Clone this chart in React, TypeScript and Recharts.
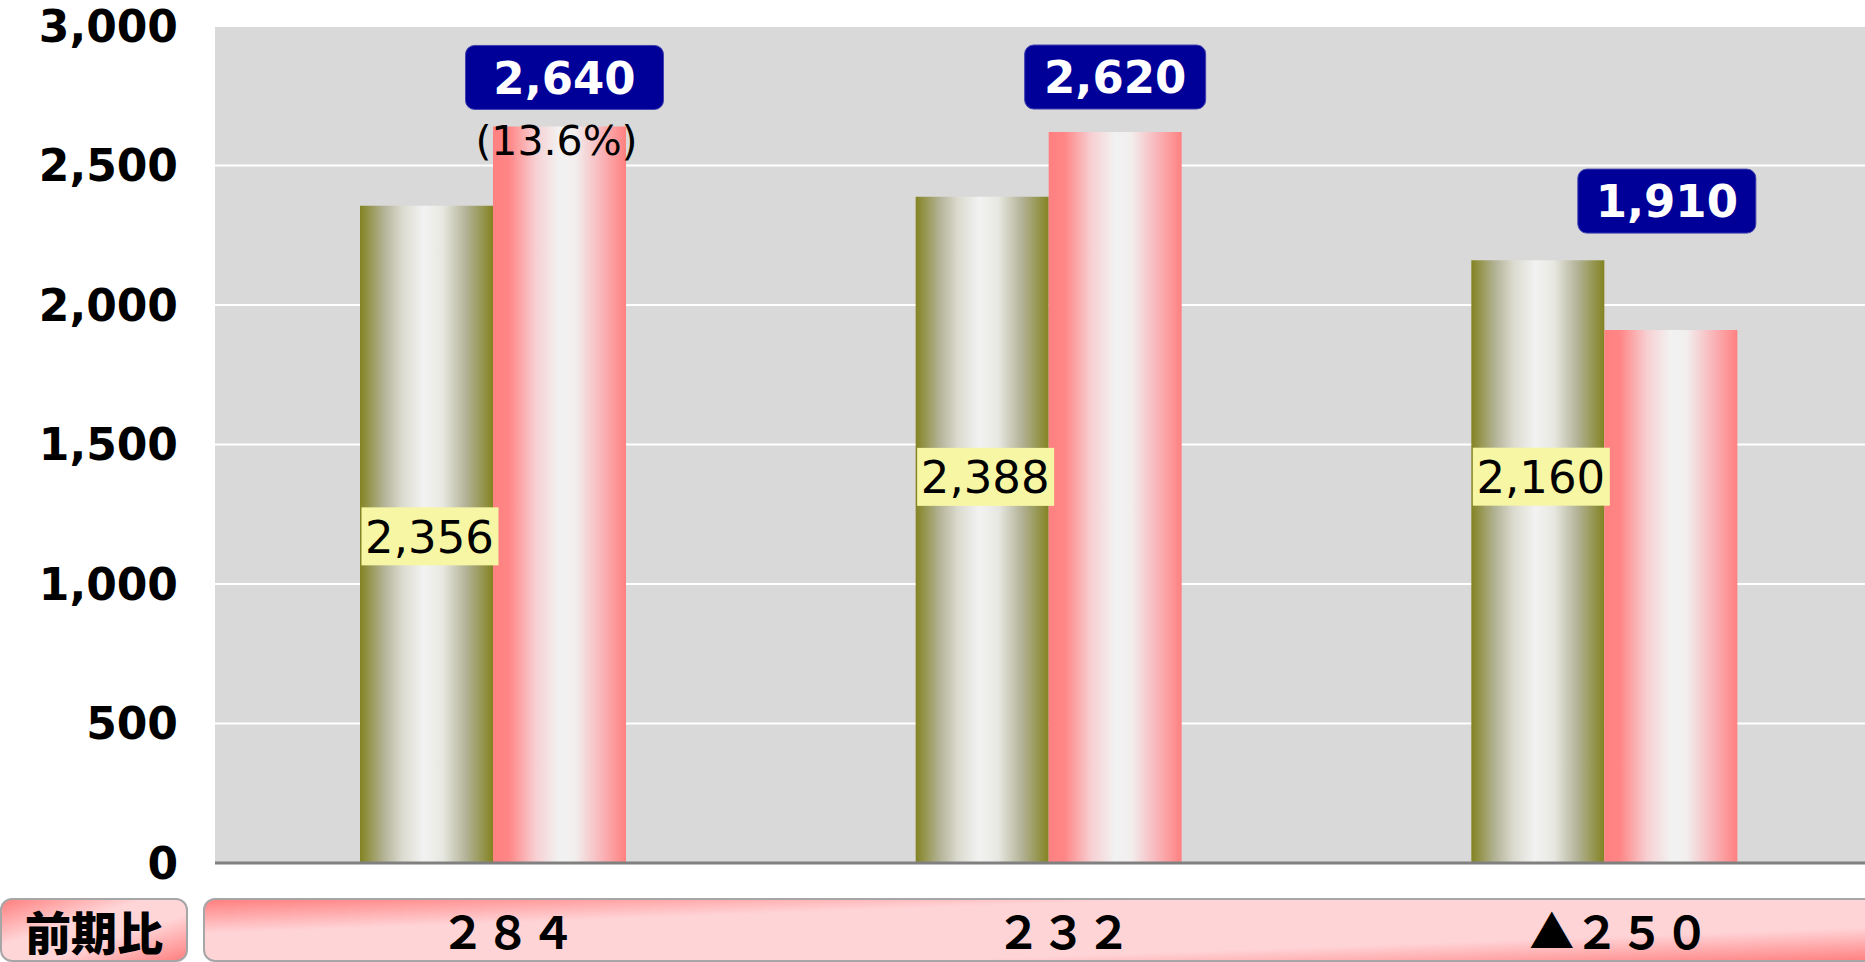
import React from "react";
import { BarChart, Bar, XAxis, YAxis, CartesianGrid, LabelList } from "recharts";

// values
const diffLabels = ["２８４", "２３２", "▲２５０"];
const prevValues = [2356, 2388, 2160];
const currValues = [2640, 2620, 1910];
const rateLabels = ["(13.6%)", "", ""];
const yTicks = [0, 500, 1000, 1500, 2000, 2500, 3000];
const boundaryTicks = [0, 1, 2];

const rows = diffLabels.map((d, i) => ({
  diff: d,
  prev: prevValues[i],
  curr: currValues[i],
  rate: rateLabels[i],
}));

// label placement tweaks (the source chart had hand-moved labels)
const PREV_LABEL_SHIFT = [2, -53, -85];
const BADGE = [
  { w: 198, dx: 5, gap: 17 },
  { w: 181, dx: 0, gap: 23 },
  { w: 178, dx: -4, gap: 97 },
];

const FONT = "'DejaVu Sans', Verdana, sans-serif";
const JP_FONT = "'Noto Sans CJK JP', sans-serif";

function fmt(n: number) {
  return Number(n).toLocaleString("en-US");
}

function PrevLabel(props: any) {
  const { x, y, width, height, index, value } = props;
  const cx = x + width / 2 + 3;
  const cy = y + height / 2 + (PREV_LABEL_SHIFT[index] ?? 0);
  return (
    <g>
      <rect x={cx - 68} y={cy - 29} width={137} height={58} fill="#f6f6a4" />
      <text x={cx} y={cy} dy="0.36em" textAnchor="middle" fontSize={45} fontFamily={FONT} fill="#000">
        {fmt(value)}
      </text>
    </g>
  );
}

function CurrLabel(props: any) {
  const { x, y, width, index, value } = props;
  const b = BADGE[index] ?? { w: 180, dx: 0, gap: 20 };
  const cx = x + width / 2 + b.dx;
  const bottom = y - b.gap;
  const rate = rateLabels[index];
  return (
    <g>
      <rect x={cx - b.w / 2} y={bottom - 64} width={b.w} height={64} rx={9} fill="#000099" stroke="#4040b0" strokeWidth={1} />
      <text x={cx} y={bottom - 32} dy="0.36em" textAnchor="middle" fontSize={45} fontWeight={700} fontFamily={FONT} fill="#fff">
        {fmt(value)}
      </text>
      {rate ? (
        <text x={cx - 8} y={bottom + 46} textAnchor="middle" fontSize={41} fontFamily={FONT} fill="#000">
          {rate}
        </text>
      ) : null}
    </g>
  );
}

function DiffTick(props: any) {
  const { x, payload } = props;
  return (
    <text x={x + 15} y={949} textAnchor="middle" fontSize={45} fontWeight={700} fontFamily={JP_FONT} fill="#000">
      {payload.value}
    </text>
  );
}

const stripBorder = "2px solid #a6a6a6";

export default function App() {
  return (
    <div
      style={{
        position: "fixed",
        left: 0,
        top: 0,
        width: 1865,
        height: 962,
        overflow: "hidden",
        background: "#fff",
        fontFamily: FONT,
      }}
    >
      {/* 前期比 row */}
      <div
        style={{
          position: "absolute",
          left: 0,
          top: 898,
          width: 188,
          height: 64,
          boxSizing: "border-box",
          border: stripBorder,
          borderRadius: 12,
          background: "linear-gradient(to bottom right, #ff8080 0%, #ffd6d8 38%, #ffd6d8 62%, #ff8080 100%)",
          display: "flex",
          alignItems: "center",
          justifyContent: "center",
          fontFamily: JP_FONT,
          fontWeight: 900,
          fontSize: 46,
          lineHeight: 1,
          color: "#000",
        }}
      >
        前期比
      </div>
      <div
        style={{
          position: "absolute",
          left: 203,
          top: 898,
          width: 1690,
          height: 64,
          boxSizing: "border-box",
          border: stripBorder,
          borderRadius: 12,
          background: "linear-gradient(to bottom right, #ff8080 0%, #ffd4d7 28%, #ffd4d7 72%, #ff8080 100%)",
        }}
      />

      <div style={{ position: "absolute", left: 0, top: 0 }}>
        <BarChart
          width={1882}
          height={962}
          data={rows}
          margin={{ top: 26, right: 0, left: 0, bottom: 98 }}
          barGap={0}
        >
          <defs>
            <linearGradient id="oliveGrad" x1="0" y1="0" x2="1" y2="0">
              <stop offset="0%" stopColor="#838322" />
              <stop offset="18%" stopColor="#b3b397" />
              <stop offset="32%" stopColor="#dcdbd0" />
              <stop offset="48%" stopColor="#f2f2f2" />
              <stop offset="62%" stopColor="#e8e8e2" />
              <stop offset="80%" stopColor="#b2b296" />
              <stop offset="100%" stopColor="#838322" />
            </linearGradient>
            <linearGradient id="pinkGrad" x1="0" y1="0" x2="1" y2="0">
              <stop offset="0%" stopColor="#ff8080" />
              <stop offset="12%" stopColor="#ff8686" />
              <stop offset="32%" stopColor="#f7cfd2" />
              <stop offset="50%" stopColor="#f2f2f2" />
              <stop offset="62%" stopColor="#f2eeee" />
              <stop offset="82%" stopColor="#f9b4b8" />
              <stop offset="100%" stopColor="#ff8080" />
            </linearGradient>
          </defs>
          <CartesianGrid vertical={false} stroke="#ffffff" strokeWidth={2} fill="#d9d9d9" fillOpacity={1} />
          <XAxis
            dataKey="diff"
            height={1}
            interval={0}
            axisLine={{ stroke: "#808080", strokeWidth: 3 }}
            tickLine={false}
            tick={<DiffTick />}
          />
          <XAxis
            xAxisId="bounds"
            type="number"
            domain={[0, 3]}
            ticks={boundaryTicks}
            allowDataOverflow
            mirror
            height={1}
            axisLine={false}
            tick={false}
            tickSize={7}
            tickLine={{ stroke: "#808080", strokeWidth: 2 }}
          />
          <YAxis
            width={215}
            domain={[0, 3000]}
            ticks={yTicks}
            interval={0}
            axisLine={false}
            tickLine={false}
            tickSize={0}
            tickMargin={37}
            tickFormatter={fmt}
            tick={{ fontSize: 44, fontWeight: 700, fill: "#000", fontFamily: FONT }}
          />
          <Bar dataKey="prev" fill="url(#oliveGrad)" barSize={133} isAnimationActive={false}>
            <LabelList dataKey="prev" content={<PrevLabel />} />
          </Bar>
          <Bar dataKey="curr" fill="url(#pinkGrad)" barSize={133} isAnimationActive={false}>
            <LabelList dataKey="curr" content={<CurrLabel />} />
          </Bar>
        </BarChart>
      </div>
    </div>
  );
}
